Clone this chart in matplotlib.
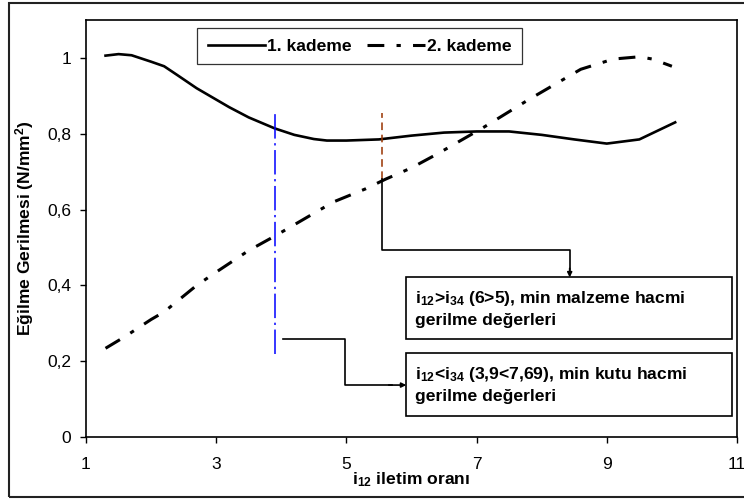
import matplotlib
matplotlib.use("Agg")
import matplotlib.pyplot as plt
from matplotlib.patches import Rectangle
from matplotlib.ticker import FuncFormatter

plt.rcParams['font.family'] = ['Liberation Sans', 'DejaVu Sans']
plt.rcParams['mathtext.fontset'] = 'custom'
plt.rcParams['mathtext.rm'] = 'Liberation Sans:bold'
plt.rcParams['mathtext.it'] = 'Liberation Sans:bold'
plt.rcParams['mathtext.bf'] = 'Liberation Sans:bold'

# 1. kademe (solid)
x1 = [1.3, 1.5, 1.7, 2.0, 2.2, 2.4, 2.7, 2.9, 3.2, 3.5, 3.9, 4.2, 4.5, 4.7,
      5.0, 5.5, 6.0, 6.5, 7.0, 7.5, 8.0, 8.5, 9.0, 9.5, 10.05]
y1 = [1.006, 1.01, 1.007, 0.99, 0.978, 0.955, 0.92, 0.9, 0.87, 0.843, 0.814,
      0.797, 0.786, 0.782, 0.782, 0.785, 0.795, 0.803, 0.806, 0.806, 0.797,
      0.785, 0.774, 0.785, 0.83]

# 2. kademe (dash-dot)
x2 = [1.3, 1.6, 2.0, 2.2, 2.7, 3.0, 3.5, 3.9, 4.3, 4.8, 5.3, 5.6, 6.0, 6.4,
      7.1, 7.8, 8.3, 8.6, 9.1, 9.5, 9.7, 10.0]
y2 = [0.234, 0.265, 0.31, 0.33, 0.40, 0.435, 0.492, 0.53, 0.57, 0.62, 0.655,
      0.68, 0.71, 0.747, 0.816, 0.89, 0.94, 0.97, 0.997, 1.003, 0.997, 0.978]

x_ticks = [1, 3, 5, 7, 9, 11]
y_ticks = [0, 0.2, 0.4, 0.6, 0.8, 1.0]

# marker lines
x_kutu = 3.9      # min kutu hacmi
x_malz = 5.55     # min malzeme hacmi
mark_y = (0.22, 0.855)

txt_malz = "i$_{12}$>i$_{34}$ (6>5), min malzeme hacmi\ngerilme değerleri"
txt_kutu = "i$_{12}$<i$_{34}$ (3,9<7,69), min kutu hacmi\ngerilme değerleri"

fig = plt.figure(figsize=(7.44, 5), dpi=100)
ax = fig.add_axes([86/744, 63/500, 651/744, 417/500])

ax.plot(x1, y1, color='k', lw=1.9, label='1. kademe')
ax.plot(x2, y2, color='k', lw=2.2, linestyle=(0, (5.5, 4, 1.4, 4)), label='2. kademe')

ax.plot([x_kutu, x_kutu], mark_y, color='#0000ff', lw=1.1, linestyle=(0, (16, 3, 1.5, 3)))
ax.plot([x_malz, x_malz], [0.68, mark_y[1]], color='#993300', lw=1.1, linestyle=(0, (5, 3)))

# connector 1 -> malzeme box
ax.plot([x_malz, x_malz, 8.43, 8.43], [0.68, 0.492, 0.492, 0.44], color='k', lw=1.2)
ax.annotate('', xy=(8.43, 0.421), xytext=(8.43, 0.445),
            arrowprops=dict(arrowstyle='-|>', color='k', lw=1.2, mutation_scale=7,
                            shrinkA=0, shrinkB=0))
# connector 2 -> kutu box
ax.plot([4.03, 4.98, 4.98, 5.7], [0.258, 0.258, 0.137, 0.137], color='k', lw=1.2)
ax.annotate('', xy=(5.92, 0.137), xytext=(5.65, 0.137),
            arrowprops=dict(arrowstyle='-|>', color='k', lw=1.2, mutation_scale=7,
                            shrinkA=0, shrinkB=0))

# annotation boxes
for y0, y1b, txt in [(0.258, 0.421, txt_malz), (0.055, 0.221, txt_kutu)]:
    ax.add_patch(Rectangle((5.92, y0), 10.92 - 5.92, y1b - y0, fill=True,
                           facecolor='white', edgecolor='k', lw=1.2, zorder=3))
    ax.text(6.06, (y0 + y1b) / 2, txt, fontsize=12.6, fontweight='bold',
            va='center', ha='left', linespacing=1.45, zorder=4)

ax.set_xlim(1, 11)
ax.set_ylim(0, 1.1)
ax.set_xticks(x_ticks)
ax.set_yticks(y_ticks)
ax.yaxis.set_major_formatter(FuncFormatter(lambda v, p: ('%g' % round(v, 1)).replace('.', ',')))
ax.tick_params(direction='out', length=4.5, width=1, labelsize=12.5)
ax.tick_params(axis='x', pad=10)
ax.tick_params(axis='y', pad=6)
for s in ax.spines.values():
    s.set_linewidth(1.2)

ax.set_xlabel("i$_{12}$ iletim oranı", fontsize=12.6, fontweight='bold', va='top')
ax.xaxis.set_label_coords(0.5, -0.08)
ax.set_ylabel("Eğilme Gerilmesi (N/mm$^2$)", fontsize=12.6, fontweight='bold')
ax.yaxis.set_label_coords(-0.077, 0.5)

leg = ax.legend(loc='upper left', bbox_to_anchor=(197/744, 1 - 28/500),
                bbox_transform=fig.transFigure, ncol=2, frameon=True, fancybox=False,
                handlelength=3.3, handletextpad=0.1, columnspacing=0.9,
                borderpad=0.6, borderaxespad=0,
                prop={'weight': 'bold', 'size': 12.6})
leg.get_frame().set_edgecolor('k')
leg.get_frame().set_linewidth(0.9)

fig.add_artist(Rectangle((9/744, 3/500), 1.0, 494/500, transform=fig.transFigure,
                         fill=False, edgecolor='#222222', lw=1.5))

fig.savefig('out.png', dpi=100)
